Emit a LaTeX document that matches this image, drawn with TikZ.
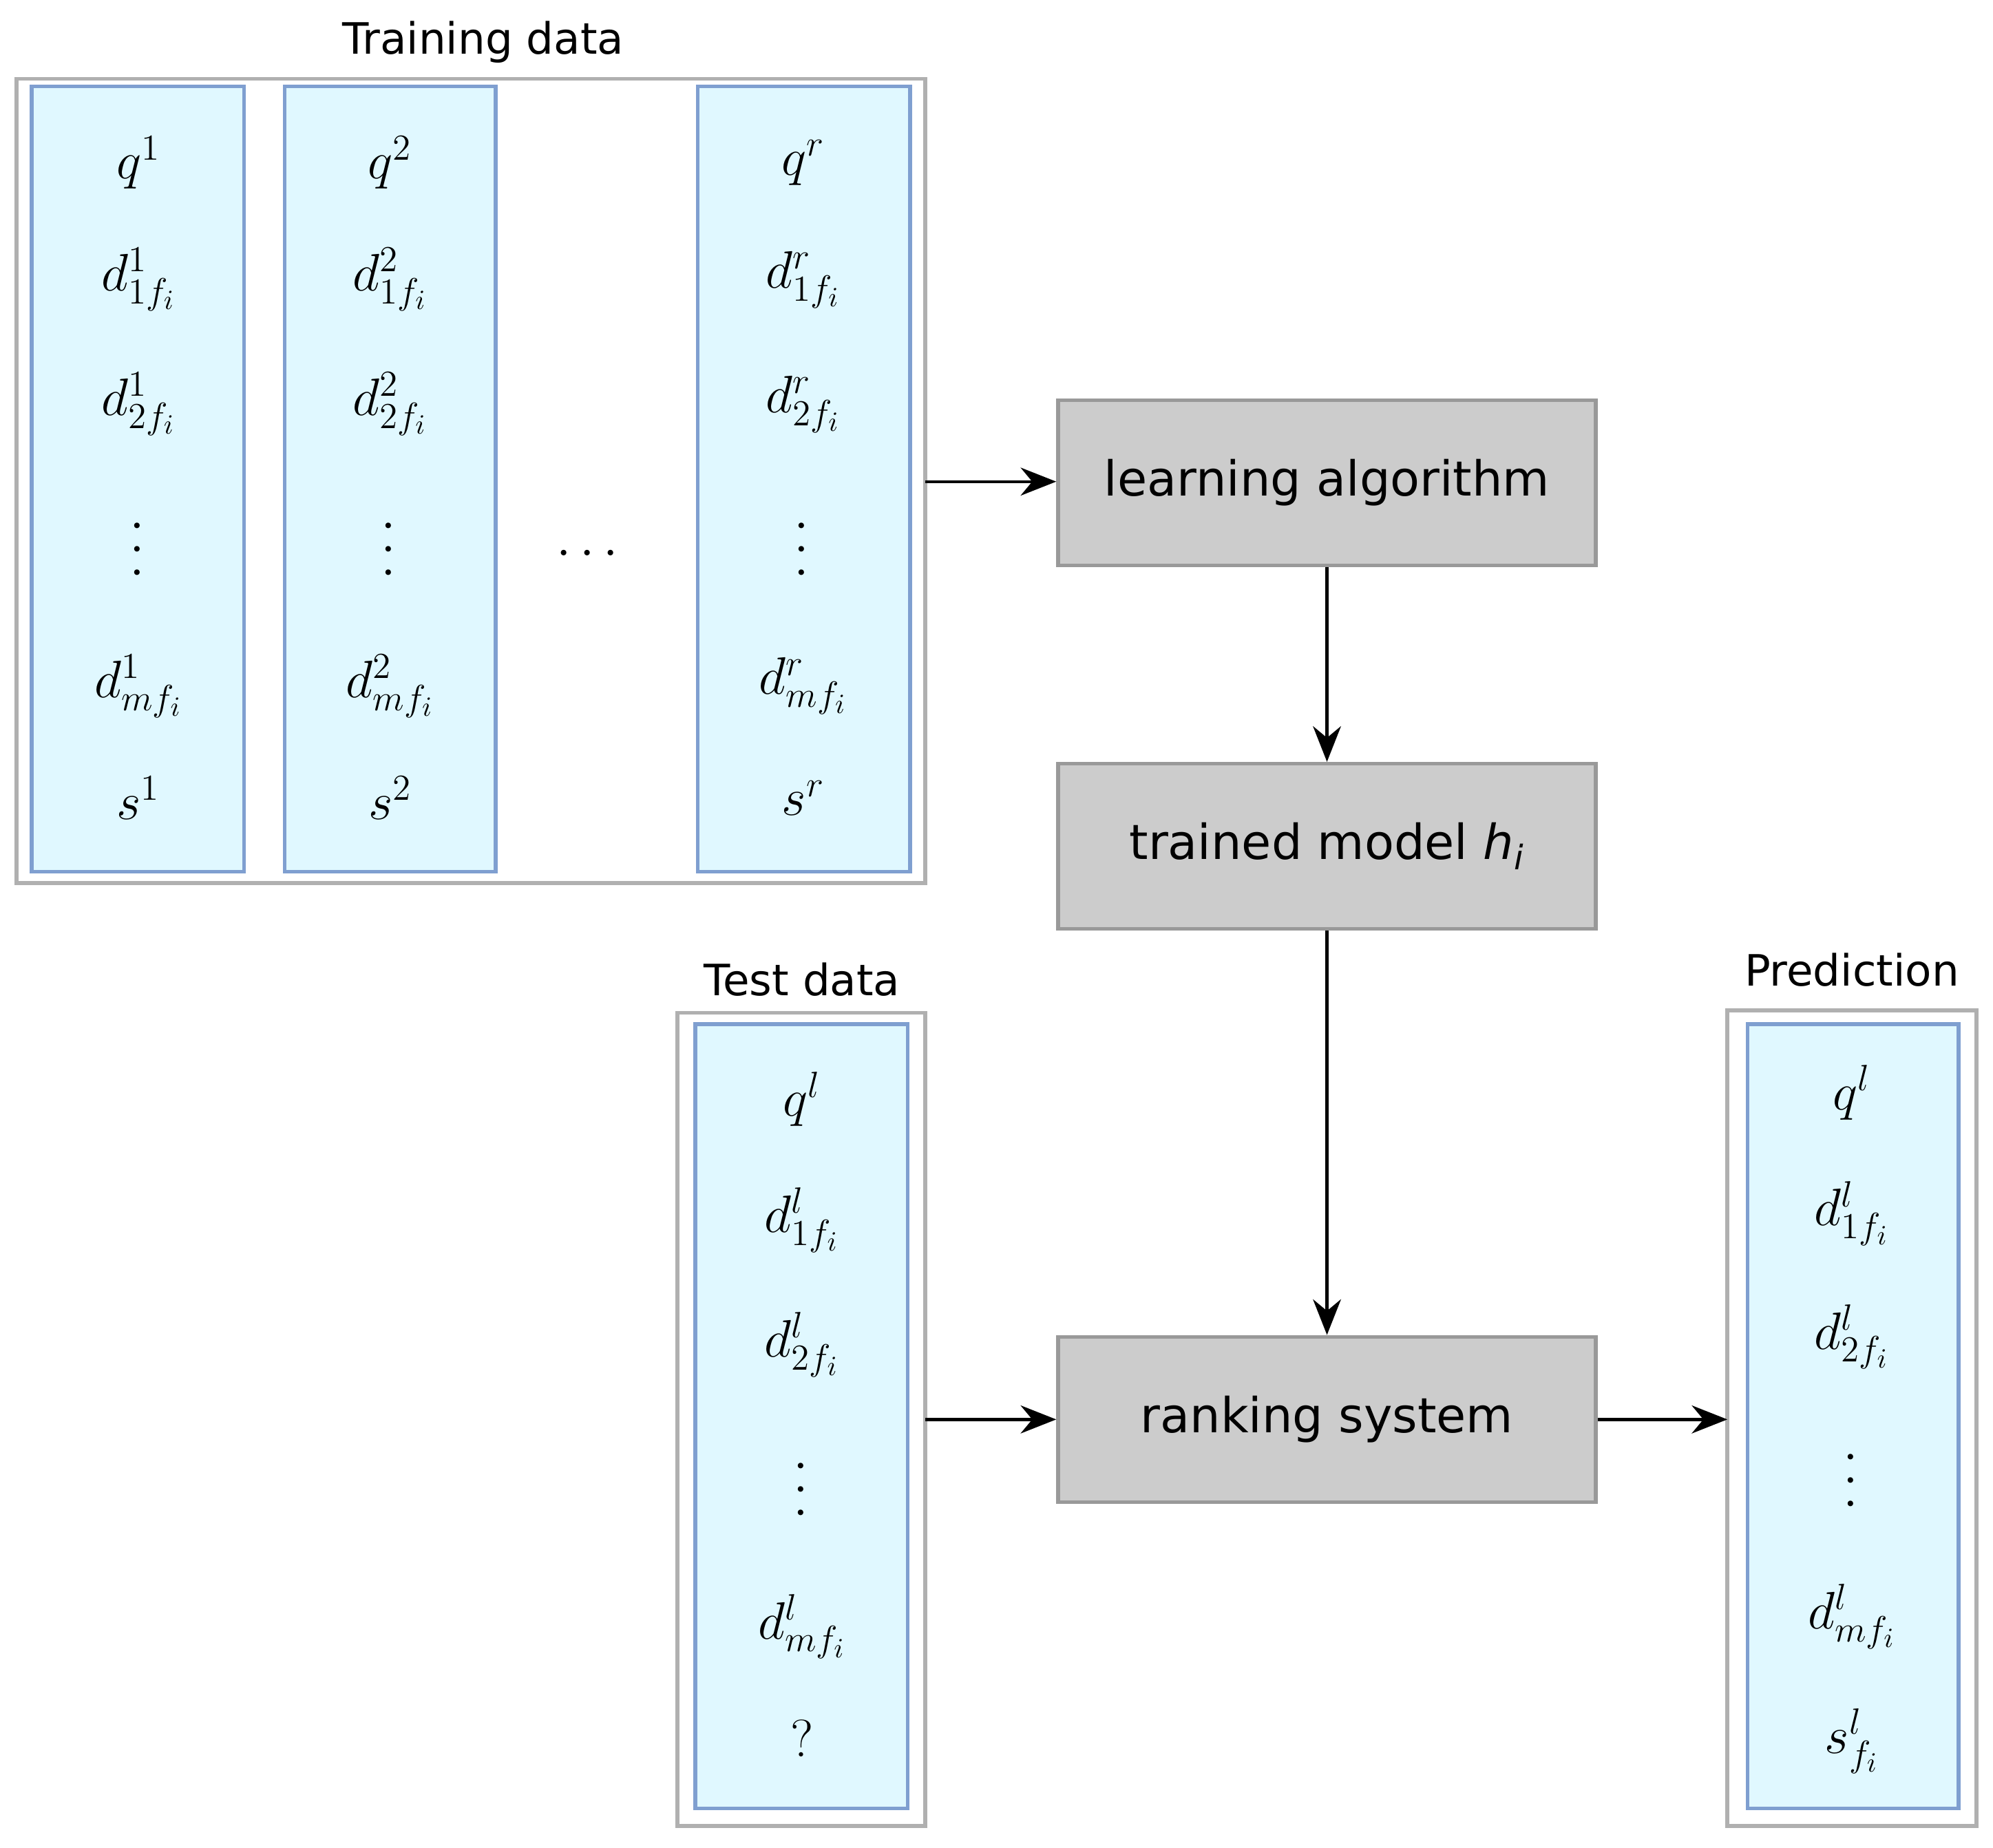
\documentclass[tikz,border=0pt]{standalone}
\usepackage{fontspec}
\setmainfont{DejaVu Sans}
\usetikzlibrary{arrows.meta}
\definecolor{cfill}{HTML}{E0F8FF}
\definecolor{cdraw}{HTML}{7F9FD0}
\definecolor{ogray}{HTML}{B0B0B0}
\definecolor{bfill}{HTML}{CCCCCC}
\definecolor{bdraw}{HTML}{999999}
\begin{document}
\begin{tikzpicture}[x=0.5pt,y=-0.5pt,
  outer/.style={draw=ogray,line width=1.5pt},
  col/.style={draw=cdraw,fill=cfill,line width=1.5pt},
  proc/.style={draw=bdraw,fill=bfill,line width=1.5pt,minimum width=211.5pt,minimum height=65pt,font=\fontsize{19}{22}\selectfont},
  m/.style={font=\fontsize{22}{26}\selectfont},
  vd/.style={font=\fontsize{22}{26}\selectfont,rotate=90,inner sep=0pt},
  lab/.style={font=\fontsize{17}{20}\selectfont},
  arr/.style={-{Stealth[length=14pt,width=11pt]},line width=1.2pt}]
\useasboundingbox (0,0) rectangle (1568,1454);
\fill[white] (0,0) rectangle (1568,1454);
% training
\draw[outer] (13,62) rectangle (728,695);
\node[lab] (tl) at (380,33) {Training data};
\draw[col] (25,68) rectangle (192,686);
\draw[col] (224,68) rectangle (390,686);
\draw[col] (549,68) rectangle (716,686);
\foreach \cx/\s in {109/1,307/2,632/r}{
  \node[m] (q\s) at (\cx,128) {$q^{\s}$};
  \node[m] (a\s) at (\cx,220) {$d^{\s}_{1f_i}$};
  \node[m] (b\s) at (\cx,318) {$d^{\s}_{2f_i}$};
  \node[vd] (v\s) at (\cx,432) {$\cdots$};
  \node[m] (c\s) at (\cx,540) {$d^{\s}_{mf_i}$};
  \node[m] (s\s) at (\cx,628) {$s^{\s}$};
}
\node[m] (dots) at (462,436) {$\cdots$};
\coordinate (tr) at (728,379);
% processes
\node[proc] (la) at (1044,380) {learning algorithm};
\node[proc] (tm) at (1044,666) {trained model \textit{h\textsubscript{i}}};
\node[proc] (rs) at (1044,1117) {ranking system};
% test
\draw[outer] (533,797) rectangle (728,1437);
\draw[col] (547,806) rectangle (714,1423);
\node[lab] (tdl) at (631,771) {Test data};
\node[m] (tq) at (631,865) {$q^{l}$};
\node[m] (t1) at (631,960) {$d^{l}_{1f_i}$};
\node[m] (t2) at (631,1058) {$d^{l}_{2f_i}$};
\node[vd] (tv) at (631,1172) {$\cdots$};
\node[m] (tm2) at (631,1280) {$d^{l}_{mf_i}$};
\node[m] (tqq) at (631,1368) {$?$};
\coordinate (te) at (728,1117);
% prediction
\draw[outer] (1359,795) rectangle (1555,1437);
\draw[col] (1375,806) rectangle (1541,1423);
\node[lab] (pl) at (1457,763) {Prediction};
\node[m] (pq) at (1457,860) {$q^{l}$};
\node[m] (p1) at (1457,955) {$d^{l}_{1f_i}$};
\node[m] (p2) at (1457,1052) {$d^{l}_{2f_i}$};
\node[vd] (pv) at (1457,1165) {$\cdots$};
\node[m] (pm) at (1457,1272) {$d^{l}_{mf_i}$};
\node[m] (ps) at (1457,1370) {$s^{l}_{f_i}$};
\coordinate (pr) at (1359,1117);
% arrows
\draw[arr] (tr) -- (tr -| la.west);
\draw[arr] (la) -- (tm);
\draw[arr] (tm) -- (rs);
\draw[arr] (te) -- (rs.west);
\draw[arr] (rs.east) -- (pr);
\end{tikzpicture}
\end{document}
